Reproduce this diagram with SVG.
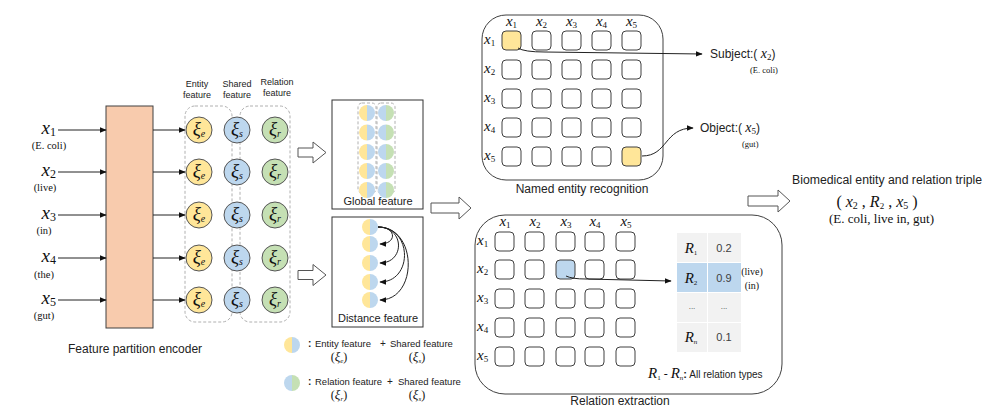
<svg xmlns="http://www.w3.org/2000/svg" width="994" height="416" viewBox="0 0 994 416">
<defs>
<marker id="ah" viewBox="0 0 10 10" refX="9" refY="5" markerWidth="7" markerHeight="7" markerUnits="userSpaceOnUse" orient="auto">
<path d="M0,1 L10,5 L0,9 Z" fill="#111"/>
</marker>
<g id="hes"><path d="M0,-8 A8,8 0 0 0 0,8 Z" fill="#FFE699"/><path d="M0,-8 A8,8 0 0 1 0,8 Z" fill="#BDD7EE"/></g>
<g id="hrs"><path d="M0,-8 A8,8 0 0 0 0,8 Z" fill="#BDD7EE"/><path d="M0,-8 A8,8 0 0 1 0,8 Z" fill="#C5E0B4"/></g>
</defs>
<style>
.sans{font-family:"Liberation Sans",Arial,sans-serif;fill:#222}
.serif{font-family:"Liberation Serif","Times New Roman",serif;fill:#111}
.mi{font-style:italic}
.ln{stroke:#222;stroke-width:1;fill:none}
.cell{fill:#fff;stroke:#404040;stroke-width:1}
.blk{fill:#fff;stroke:#555;stroke-width:1}
.dash{fill:none;stroke:#b0b0b0;stroke-width:1;stroke-dasharray:3,2}
.ce{fill:#FFE699;stroke:#555;stroke-width:1}
.cs{fill:#BDD7EE;stroke:#555;stroke-width:1}
.cr{fill:#C5E0B4;stroke:#555;stroke-width:1}
.box{fill:#fff;stroke:#333;stroke-width:1}
</style>
<rect width="994" height="416" fill="#fff"/>

<!-- inputs -->
<g id="inputs">
<text class="serif" x="56" y="134" text-anchor="end"><tspan class="mi" font-size="19">x</tspan><tspan font-size="12" dy="2">1</tspan></text>
<text class="serif" x="49" y="149" text-anchor="middle" font-size="10.5">(E. coli)</text>
<text class="serif" x="56" y="176" text-anchor="end"><tspan class="mi" font-size="19">x</tspan><tspan font-size="12" dy="2">2</tspan></text>
<text class="serif" x="45" y="191" text-anchor="middle" font-size="10.5">(live)</text>
<text class="serif" x="56" y="219" text-anchor="end"><tspan class="mi" font-size="19">x</tspan><tspan font-size="12" dy="2">3</tspan></text>
<text class="serif" x="44" y="234" text-anchor="middle" font-size="10.5">(in)</text>
<text class="serif" x="56" y="262" text-anchor="end"><tspan class="mi" font-size="19">x</tspan><tspan font-size="12" dy="2">4</tspan></text>
<text class="serif" x="44" y="278" text-anchor="middle" font-size="10.5">(the)</text>
<text class="serif" x="56" y="304" text-anchor="end"><tspan class="mi" font-size="19">x</tspan><tspan font-size="12" dy="2">5</tspan></text>
<text class="serif" x="44" y="319" text-anchor="middle" font-size="10.5">(gut)</text>
</g>

<g id="encoder">
<rect x="106" y="106" width="47" height="222" fill="#F8CBAD" stroke="#404040" stroke-width="1"/>
<text class="sans" x="68" y="353" font-size="12">Feature partition encoder</text>
</g>

<g id="features">
<text class="sans" font-size="9" text-anchor="middle"><tspan x="197" y="87">Entity</tspan><tspan x="197" y="97.5">feature</tspan></text>
<text class="sans" font-size="9" text-anchor="middle"><tspan x="237" y="87">Shared</tspan><tspan x="237" y="97.5">feature</tspan></text>
<text class="sans" font-size="9" text-anchor="middle"><tspan x="277" y="85">Relation</tspan><tspan x="277" y="96">feature</tspan></text>
<rect class="dash" x="185" y="106" width="47" height="216" rx="10"/>
<rect class="dash" x="240" y="106" width="50" height="216" rx="10"/>
</g>

<g id="xi-e">
<circle class="ce" cx="199" cy="130" r="13"/><circle class="ce" cx="199" cy="172" r="13"/><circle class="ce" cx="199" cy="215" r="13"/><circle class="ce" cx="199" cy="258" r="13"/><circle class="ce" cx="199" cy="300" r="13"/>
<g class="serif" text-anchor="middle">
<text x="199" y="135"><tspan class="mi" font-size="19">ξ</tspan><tspan class="mi" font-size="10" dy="2">e</tspan></text>
<text x="199" y="177"><tspan class="mi" font-size="19">ξ</tspan><tspan class="mi" font-size="10" dy="2">e</tspan></text>
<text x="199" y="220"><tspan class="mi" font-size="19">ξ</tspan><tspan class="mi" font-size="10" dy="2">e</tspan></text>
<text x="199" y="263"><tspan class="mi" font-size="19">ξ</tspan><tspan class="mi" font-size="10" dy="2">e</tspan></text>
<text x="199" y="305"><tspan class="mi" font-size="19">ξ</tspan><tspan class="mi" font-size="10" dy="2">e</tspan></text>
</g>
</g>
<g id="xi-s">
<circle class="cs" cx="237" cy="130" r="13"/><circle class="cs" cx="237" cy="172" r="13"/><circle class="cs" cx="237" cy="215" r="13"/><circle class="cs" cx="237" cy="258" r="13"/><circle class="cs" cx="237" cy="300" r="13"/>
<g class="serif" text-anchor="middle">
<text x="237" y="135"><tspan class="mi" font-size="19">ξ</tspan><tspan class="mi" font-size="10" dy="2">s</tspan></text>
<text x="237" y="177"><tspan class="mi" font-size="19">ξ</tspan><tspan class="mi" font-size="10" dy="2">s</tspan></text>
<text x="237" y="220"><tspan class="mi" font-size="19">ξ</tspan><tspan class="mi" font-size="10" dy="2">s</tspan></text>
<text x="237" y="263"><tspan class="mi" font-size="19">ξ</tspan><tspan class="mi" font-size="10" dy="2">s</tspan></text>
<text x="237" y="305"><tspan class="mi" font-size="19">ξ</tspan><tspan class="mi" font-size="10" dy="2">s</tspan></text>
</g>
</g>
<g id="xi-r">
<circle class="cr" cx="275" cy="130" r="13"/><circle class="cr" cx="275" cy="172" r="13"/><circle class="cr" cx="275" cy="215" r="13"/><circle class="cr" cx="275" cy="258" r="13"/><circle class="cr" cx="275" cy="300" r="13"/>
<g class="serif" text-anchor="middle">
<text x="275" y="135"><tspan class="mi" font-size="19">ξ</tspan><tspan class="mi" font-size="10" dy="2">r</tspan></text>
<text x="275" y="177"><tspan class="mi" font-size="19">ξ</tspan><tspan class="mi" font-size="10" dy="2">r</tspan></text>
<text x="275" y="220"><tspan class="mi" font-size="19">ξ</tspan><tspan class="mi" font-size="10" dy="2">r</tspan></text>
<text x="275" y="263"><tspan class="mi" font-size="19">ξ</tspan><tspan class="mi" font-size="10" dy="2">r</tspan></text>
<text x="275" y="305"><tspan class="mi" font-size="19">ξ</tspan><tspan class="mi" font-size="10" dy="2">r</tspan></text>
</g>
</g>

<g id="global-feature">
<rect class="box" x="332" y="100" width="91" height="109"/>
<rect class="dash" x="358" y="103" width="18" height="90" rx="4"/>
<rect class="dash" x="377" y="103" width="18" height="90" rx="4"/>
<use href="#hes" x="367" y="113"/><use href="#hes" x="367" y="132.5"/><use href="#hes" x="367" y="152"/><use href="#hes" x="367" y="171"/><use href="#hes" x="367" y="190"/>
<use href="#hrs" x="386" y="113"/><use href="#hrs" x="386" y="132.5"/><use href="#hrs" x="386" y="152"/><use href="#hrs" x="386" y="171"/><use href="#hrs" x="386" y="190"/>
<text class="sans" x="378" y="205" font-size="11" text-anchor="middle">Global feature</text>
</g>

<g id="distance-feature">
<rect class="box" x="332" y="217" width="91" height="110"/>
<use href="#hes" x="370" y="227"/><use href="#hes" x="370" y="244"/><use href="#hes" x="370" y="263"/><use href="#hes" x="370" y="282"/><use href="#hes" x="370" y="300"/>
<text class="sans" x="378" y="322" font-size="11" text-anchor="middle">Distance feature</text>
</g>

<g id="legend">
<use href="#hes" x="292" y="345"/>
<text class="sans" x="308" y="347" font-size="10" font-weight="bold">:</text>
<text class="sans" x="315" y="347" font-size="9.5">Entity feature</text>
<text class="sans" x="380" y="347" font-size="10">+</text>
<text class="sans" x="390" y="347" font-size="9.5">Shared feature</text>
<text class="serif" x="339" y="361" font-size="12" text-anchor="middle">(<tspan class="mi" font-size="13">ξ</tspan><tspan class="mi" font-size="7" dy="2">e</tspan><tspan dy="-2">)</tspan></text>
<text class="serif" x="417" y="361" font-size="12" text-anchor="middle">(<tspan class="mi" font-size="13">ξ</tspan><tspan class="mi" font-size="7" dy="2">s</tspan><tspan dy="-2">)</tspan></text>
<use href="#hrs" x="292" y="383"/>
<text class="sans" x="308" y="385" font-size="10" font-weight="bold">:</text>
<text class="sans" x="315" y="385" font-size="9.5">Relation feature</text>
<text class="sans" x="387" y="385" font-size="10">+</text>
<text class="sans" x="398" y="385" font-size="9.5">Shared feature</text>
<text class="serif" x="339" y="399" font-size="12" text-anchor="middle">(<tspan class="mi" font-size="13">ξ</tspan><tspan class="mi" font-size="7" dy="2">r</tspan><tspan dy="-2">)</tspan></text>
<text class="serif" x="417" y="399" font-size="12" text-anchor="middle">(<tspan class="mi" font-size="13">ξ</tspan><tspan class="mi" font-size="7" dy="2">s</tspan><tspan dy="-2">)</tspan></text>
</g>

<g id="ner">
<rect x="482" y="15" width="181" height="165" rx="24" fill="none" stroke="#404040" stroke-width="1"/>
<g class="serif" text-anchor="middle">
<text x="511.5" y="26"><tspan class="mi" font-size="15">x</tspan><tspan font-size="9" dy="2">1</tspan></text>
<text x="541.5" y="26"><tspan class="mi" font-size="15">x</tspan><tspan font-size="9" dy="2">2</tspan></text>
<text x="571.5" y="26"><tspan class="mi" font-size="15">x</tspan><tspan font-size="9" dy="2">3</tspan></text>
<text x="601.5" y="26"><tspan class="mi" font-size="15">x</tspan><tspan font-size="9" dy="2">4</tspan></text>
<text x="631.5" y="26"><tspan class="mi" font-size="15">x</tspan><tspan font-size="9" dy="2">5</tspan></text>
</g>
<g class="serif">
<text x="484" y="44"><tspan class="mi" font-size="15">x</tspan><tspan font-size="9" dy="2">1</tspan></text>
<text x="484" y="73"><tspan class="mi" font-size="15">x</tspan><tspan font-size="9" dy="2">2</tspan></text>
<text x="484" y="102"><tspan class="mi" font-size="15">x</tspan><tspan font-size="9" dy="2">3</tspan></text>
<text x="484" y="131"><tspan class="mi" font-size="15">x</tspan><tspan font-size="9" dy="2">4</tspan></text>
<text x="484" y="160"><tspan class="mi" font-size="15">x</tspan><tspan font-size="9" dy="2">5</tspan></text>
</g>
<g>
<rect class="cell" x="502" y="31" width="19" height="19" rx="4" style="fill:#FFE699"/><rect class="cell" x="532" y="31" width="19" height="19" rx="4"/><rect class="cell" x="562" y="31" width="19" height="19" rx="4"/><rect class="cell" x="592" y="31" width="19" height="19" rx="4"/><rect class="cell" x="622" y="31" width="19" height="19" rx="4"/>
<rect class="cell" x="502" y="60" width="19" height="19" rx="4"/><rect class="cell" x="532" y="60" width="19" height="19" rx="4"/><rect class="cell" x="562" y="60" width="19" height="19" rx="4"/><rect class="cell" x="592" y="60" width="19" height="19" rx="4"/><rect class="cell" x="622" y="60" width="19" height="19" rx="4"/>
<rect class="cell" x="502" y="89" width="19" height="19" rx="4"/><rect class="cell" x="532" y="89" width="19" height="19" rx="4"/><rect class="cell" x="562" y="89" width="19" height="19" rx="4"/><rect class="cell" x="592" y="89" width="19" height="19" rx="4"/><rect class="cell" x="622" y="89" width="19" height="19" rx="4"/>
<rect class="cell" x="502" y="118" width="19" height="19" rx="4"/><rect class="cell" x="532" y="118" width="19" height="19" rx="4"/><rect class="cell" x="562" y="118" width="19" height="19" rx="4"/><rect class="cell" x="592" y="118" width="19" height="19" rx="4"/><rect class="cell" x="622" y="118" width="19" height="19" rx="4"/>
<rect class="cell" x="502" y="147" width="19" height="19" rx="4"/><rect class="cell" x="532" y="147" width="19" height="19" rx="4"/><rect class="cell" x="562" y="147" width="19" height="19" rx="4"/><rect class="cell" x="592" y="147" width="19" height="19" rx="4"/><rect class="cell" x="622" y="147" width="19" height="19" rx="4" style="fill:#FFE699"/>
</g>
<text class="sans" x="582" y="193" font-size="12" text-anchor="middle">Named entity recognition</text>
</g>

<g id="subject">
<text class="sans" x="710" y="58" font-size="12">Subject:( <tspan class="serif mi" font-size="14">x</tspan><tspan class="serif" font-size="9" dy="2">2</tspan><tspan dy="-2">)</tspan></text>
<text class="serif" x="750" y="73" font-size="8.5">(E. coli)</text>
</g>
<g id="object">
<text class="sans" x="700" y="132" font-size="12">Object:( <tspan class="serif mi" font-size="14">x</tspan><tspan class="serif" font-size="9" dy="2">5</tspan><tspan dy="-2">)</tspan></text>
<text class="serif" x="742" y="147" font-size="8.5">(gut)</text>
</g>

<g id="re">
<rect x="475" y="215" width="307" height="179" rx="30" fill="none" stroke="#404040" stroke-width="1"/>
<g class="serif" text-anchor="middle">
<text x="505" y="226"><tspan class="mi" font-size="15">x</tspan><tspan font-size="9" dy="2">1</tspan></text>
<text x="535" y="226"><tspan class="mi" font-size="15">x</tspan><tspan font-size="9" dy="2">2</tspan></text>
<text x="566" y="226"><tspan class="mi" font-size="15">x</tspan><tspan font-size="9" dy="2">3</tspan></text>
<text x="595" y="226"><tspan class="mi" font-size="15">x</tspan><tspan font-size="9" dy="2">4</tspan></text>
<text x="626" y="226"><tspan class="mi" font-size="15">x</tspan><tspan font-size="9" dy="2">5</tspan></text>
</g>
<g class="serif">
<text x="477" y="245"><tspan class="mi" font-size="15">x</tspan><tspan font-size="9" dy="2">1</tspan></text>
<text x="477" y="273"><tspan class="mi" font-size="15">x</tspan><tspan font-size="9" dy="2">2</tspan></text>
<text x="477" y="302"><tspan class="mi" font-size="15">x</tspan><tspan font-size="9" dy="2">3</tspan></text>
<text x="477" y="331"><tspan class="mi" font-size="15">x</tspan><tspan font-size="9" dy="2">4</tspan></text>
<text x="477" y="360"><tspan class="mi" font-size="15">x</tspan><tspan font-size="9" dy="2">5</tspan></text>
</g>
<g>
<rect class="cell" x="495" y="232" width="19" height="19" rx="4"/><rect class="cell" x="525" y="232" width="19" height="19" rx="4"/><rect class="cell" x="556" y="232" width="19" height="19" rx="4"/><rect class="cell" x="585" y="232" width="19" height="19" rx="4"/><rect class="cell" x="616" y="232" width="19" height="19" rx="4"/>
<rect class="cell" x="495" y="260" width="19" height="19" rx="4"/><rect class="cell" x="525" y="260" width="19" height="19" rx="4"/><rect class="cell" x="556" y="260" width="19" height="19" rx="4" style="fill:#BDD7EE"/><rect class="cell" x="585" y="260" width="19" height="19" rx="4"/><rect class="cell" x="616" y="260" width="19" height="19" rx="4"/>
<rect class="cell" x="495" y="289" width="19" height="19" rx="4"/><rect class="cell" x="525" y="289" width="19" height="19" rx="4"/><rect class="cell" x="556" y="289" width="19" height="19" rx="4"/><rect class="cell" x="585" y="289" width="19" height="19" rx="4"/><rect class="cell" x="616" y="289" width="19" height="19" rx="4"/>
<rect class="cell" x="495" y="318" width="19" height="19" rx="4"/><rect class="cell" x="525" y="318" width="19" height="19" rx="4"/><rect class="cell" x="556" y="318" width="19" height="19" rx="4"/><rect class="cell" x="585" y="318" width="19" height="19" rx="4"/><rect class="cell" x="616" y="318" width="19" height="19" rx="4"/>
<rect class="cell" x="495" y="347" width="19" height="19" rx="4"/><rect class="cell" x="525" y="347" width="19" height="19" rx="4"/><rect class="cell" x="556" y="347" width="19" height="19" rx="4"/><rect class="cell" x="585" y="347" width="19" height="19" rx="4"/><rect class="cell" x="616" y="347" width="19" height="19" rx="4"/>
</g>
<text class="sans" x="620" y="405" font-size="12" text-anchor="middle">Relation extraction</text>
</g>

<g id="relation-table">
<rect x="677" y="233" width="30" height="29" fill="#F2F2F2"/><rect x="708" y="233" width="33" height="29" fill="#F2F2F2"/>
<rect x="677" y="263" width="30" height="29" fill="#BDD7EE"/><rect x="708" y="263" width="33" height="29" fill="#BDD7EE"/>
<rect x="677" y="293" width="30" height="29" fill="#F2F2F2"/><rect x="708" y="293" width="33" height="29" fill="#F2F2F2"/>
<rect x="677" y="323" width="30" height="29" fill="#F2F2F2"/><rect x="708" y="323" width="33" height="29" fill="#F2F2F2"/>
<g class="serif" text-anchor="middle">
<text x="691" y="253"><tspan class="mi" font-size="15">R</tspan><tspan font-size="7" dy="2">1</tspan></text>
<text x="691" y="283"><tspan class="mi" font-size="15">R</tspan><tspan font-size="7" dy="2">2</tspan></text>
<text x="691" y="342"><tspan class="mi" font-size="15">R</tspan><tspan class="mi" font-size="7" dy="2">n</tspan></text>
</g>
<g class="sans" text-anchor="middle" font-size="11" style="fill:#404040">
<text x="724" y="252">0.2</text>
<text x="724" y="282">0.9</text>
<text x="724" y="309" font-size="8">...</text>
<text x="692" y="309" font-size="8">...</text>
<text x="724" y="341">0.1</text>
</g>
<text class="serif" x="752" y="275" font-size="10" text-anchor="middle">(live)</text>
<text class="serif" x="752" y="289" font-size="10" text-anchor="middle">(in)</text>
<text class="serif" x="648" y="378"><tspan class="mi" font-size="15">R</tspan><tspan font-size="7" dy="2">1</tspan><tspan font-size="12" dy="-2"> - </tspan><tspan class="mi" font-size="15">R</tspan><tspan class="mi" font-size="7" dy="2">n</tspan><tspan class="sans" font-size="11" font-weight="bold" dy="-2">:</tspan><tspan class="sans" font-size="10"> All relation types</tspan></text>
</g>

<g id="triple">
<text class="sans" x="792" y="184" font-size="12" textLength="190" lengthAdjust="spacingAndGlyphs">Biomedical entity and relation triple</text>
<text class="serif" x="877" y="207" font-size="16" text-anchor="middle">(  <tspan class="mi">x</tspan><tspan font-size="10" dy="2">2</tspan><tspan dy="-2">  ,  </tspan><tspan class="mi">R</tspan><tspan font-size="9" dy="2">2</tspan><tspan dy="-2">  ,  </tspan><tspan class="mi">x</tspan><tspan font-size="10" dy="2">5</tspan><tspan dy="-2">  )</tspan></text>
<text class="serif" x="829" y="223" font-size="13">(E. coli, live in, gut)</text>
</g>

<g id="connectors">
<line class="ln" x1="58" y1="130" x2="106" y2="130" marker-end="url(#ah)"/>
<line class="ln" x1="58" y1="172" x2="106" y2="172" marker-end="url(#ah)"/>
<line class="ln" x1="58" y1="215" x2="106" y2="215" marker-end="url(#ah)"/>
<line class="ln" x1="58" y1="258" x2="106" y2="258" marker-end="url(#ah)"/>
<line class="ln" x1="58" y1="300" x2="106" y2="300" marker-end="url(#ah)"/>
<line class="ln" x1="153" y1="130" x2="185" y2="130" marker-end="url(#ah)"/>
<line class="ln" x1="153" y1="172" x2="185" y2="172" marker-end="url(#ah)"/>
<line class="ln" x1="153" y1="215" x2="185" y2="215" marker-end="url(#ah)"/>
<line class="ln" x1="153" y1="258" x2="185" y2="258" marker-end="url(#ah)"/>
<line class="ln" x1="153" y1="300" x2="185" y2="300" marker-end="url(#ah)"/>
<path class="blk" d="M298,148 L313,148 L313,142 L326,152.5 L313,163 L313,157 L298,157 Z"/>
<path class="blk" d="M298,270.5 L313,270.5 L313,264.5 L326,275 L313,285.5 L313,279.5 L298,279.5 Z"/>
<path class="blk" d="M431,203 L459,203 L459,197 L471,208 L459,219 L459,213 L431,213 Z"/>
<path class="blk" d="M748,196 L778,196 L778,190 L790,201 L778,212 L778,206 L748,206 Z"/>
<path class="ln" d="M378,227 C397,227 397,244 380,244" marker-end="url(#ah)"/>
<path class="ln" d="M378,227 C405,227 405,263 380,263" marker-end="url(#ah)"/>
<path class="ln" d="M378,227 C413,227 413,282 380,282" marker-end="url(#ah)"/>
<path class="ln" d="M378,227 C418,227 418,300 380,300" marker-end="url(#ah)"/>
<path class="ln" d="M518,48 Q524,52 545,52 L702,54" marker-end="url(#ah)"/>
<path class="ln" d="M642,156 C668,156 664,128 693,128" marker-end="url(#ah)"/>
<path class="ln" d="M566,276 Q572,279 586,279 L671,281" marker-end="url(#ah)"/>
</g>
</svg>
